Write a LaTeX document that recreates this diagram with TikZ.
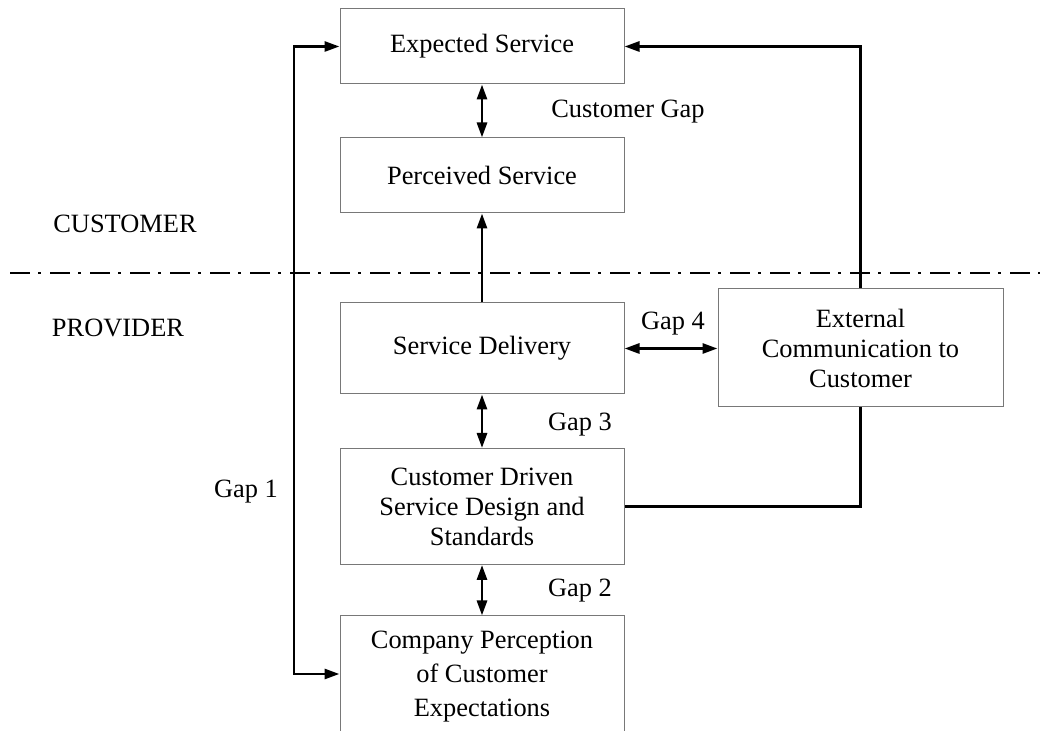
\documentclass[tikz,border=0pt]{standalone}
\usepackage{fontspec}
\setmainfont{Liberation Serif}
\usetikzlibrary{arrows.meta}
\definecolor{boxgray}{RGB}{120,120,120}
\begin{document}
\begin{tikzpicture}[x=0.5pt,y=-0.5pt,
  box/.style={draw=boxgray,line width=0.5pt,rectangle,inner sep=0pt,minimum width=142pt,align=center,font=\fontsize{13.2pt}{15pt}\selectfont},
  lbl/.style={inner sep=0pt,font=\fontsize{13.2pt}{15pt}\selectfont},
  conn/.style={line width=1.4pt,line join=miter},
  tip/.style={-{Triangle[length=7.5pt,width=5pt]}},
  dtip/.style={{Triangle[length=7.5pt,width=5pt]}-{Triangle[length=7.5pt,width=5pt]}}]
\clip (0,0) rectangle (1040,731);
\node[box,minimum height=37.5pt] (exp) at (482,46.5) {Expected Service};
\node[box,minimum height=37.5pt] (per) at (482,175.5) {Perceived Service};
\node[box,minimum height=45.5pt] (del) at (482,348.5) {Service Delivery};
\node[box,minimum height=59pt,minimum width=142.5pt] (ext) at (860.5,348) {External\\Communication to\\Customer};
\node[box,minimum height=58pt] (cdd) at (482,506.5) {Customer Driven\\Service Design and\\Standards};
\node[box,minimum height=61pt,font=\fontsize{13.2pt}{17pt}\selectfont] (cpc) at (482,677) {Company Perception\\of Customer\\Expectations};
\node[lbl] (cg) at (628,112) {Customer Gap};
\node[lbl] (cu) at (125,224) {CUSTOMER};
\node[lbl] (pr) at (118,328) {PROVIDER};
\node[lbl] (g4) at (673,324) {Gap 4};
\node[lbl] (g3) at (580,425) {Gap 3};
\node[lbl] (g1) at (246,492) {Gap 1};
\node[lbl] (g2) at (580,591) {Gap 2};
\coordinate (dl) at (10,273);
\coordinate (dr) at (1040,273);
\draw[line width=1pt,dash pattern=on 10pt off 4pt on 1.5pt off 4.5pt] (dl) -- (dr);
\draw[conn,dtip] (exp.south) -- (per.north);
\draw[conn,tip] (del.north) -- (per.south);
\draw[conn,dtip] (del.east) -- (del.east -| ext.west);
\draw[conn,dtip] (del.south) -- (cdd.north);
\draw[conn,dtip] (cdd.south) -- (cpc.north);
\coordinate (gb) at (294,674);
\draw[conn,dtip] (exp.west) -| (gb) -- (gb -| cpc.west);
\draw[conn,tip] (ext.north) |- (exp.east);
\draw[conn] (ext.south) |- (cdd.east);
\end{tikzpicture}
\end{document}
